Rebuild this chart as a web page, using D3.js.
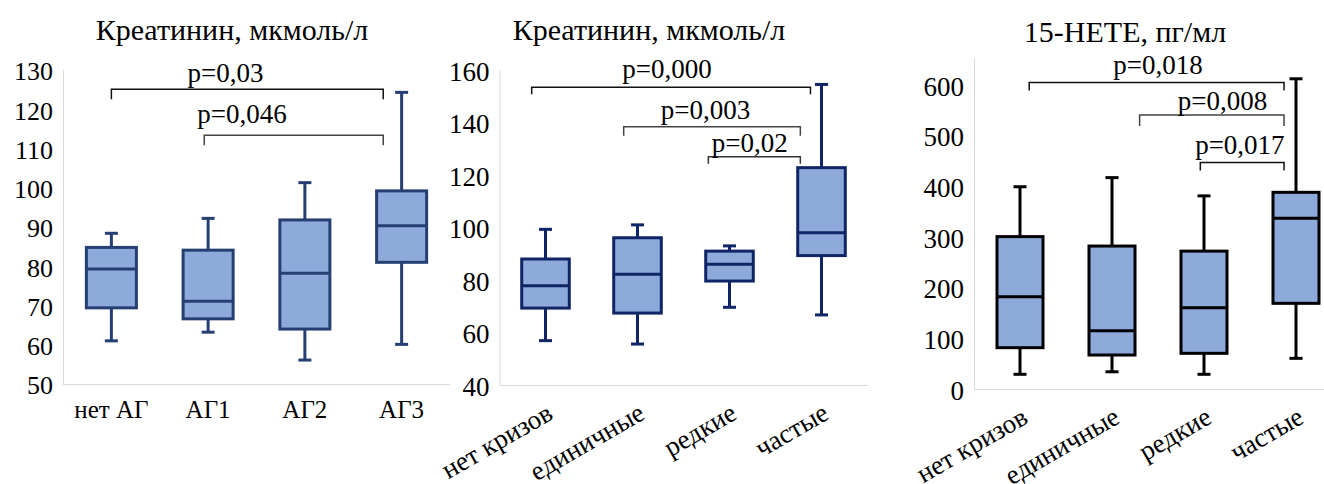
<!DOCTYPE html>
<html>
<head>
<meta charset="utf-8">
<script src="https://cdn.jsdelivr.net/npm/d3@7"></script>
<style>
  body { margin: 0; background: #fff; }
  text { font-family: "Liberation Serif", "Times New Roman", serif; fill: #000; }
</style>
</head>
<body>
<svg id="chart" width="1324" height="484"></svg>
<script>
// ---- Panel 1: creatinine by hypertension stage ----
const stageCategories = ["нет АГ", "АГ1", "АГ2", "АГ3"];
const stageMin    = [61, 63.2, 56.1, 60.1];
const stageQ1     = [69.4, 66.6, 64, 81];
const stageMedian = [79.3, 71.1, 78.2, 90.3];
const stageQ3     = [84.8, 84.1, 91.8, 99.2];
const stageMax    = [88.4, 92.2, 101.3, 124.3];
const stageTicks  = [50, 60, 70, 80, 90, 100, 110, 120, 130];
const stagePLabels = ["p=0,03", "p=0,046"];

// ---- Panel 2: creatinine by crisis frequency ----
const crisisCategories = ["нет кризов", "единичные", "редкие", "частые"];
const creatMin    = [56.9, 55.6, 69.6, 66.7];
const creatQ1     = [69.3, 67.4, 79.6, 89.3];
const creatMedian = [77.8, 82.2, 86, 98];
const creatQ3     = [88, 96.1, 91, 122.8];
const creatMax    = [99.3, 101, 93, 154.5];
const creatTicks  = [40, 60, 80, 100, 120, 140, 160];
const creatPLabels = ["p=0,000", "p=0,003", "p=0,02"];

// ---- Panel 3: 15-HETE by crisis frequency ----
const heteMin    = [29, 34, 29, 60.5];
const heteQ1     = [81.5, 67, 70.4, 169];
const heteMedian = [182, 115, 160.5, 337];
const heteQ3     = [300.6, 282, 272, 388];
const heteMax    = [399, 417, 381, 612];
const heteTicks  = [0, 100, 200, 300, 400, 500, 600];
const hetePLabels = ["p=0,018", "p=0,008", "p=0,017"];

const svg = d3.select("#chart");
const fill = "#8eaadb";
const axisGrey = "#d9d9d9";

function drawPanel(cfg) {
  const g = svg.append("g");
  const x = d3.scaleBand().domain(cfg.categories).range([cfg.left, cfg.right]);
  const step = x.step();
  const cx = c => x(c) + step / 2;
  // fractional category position used by comparison brackets
  const xi = d3.scaleLinear().domain([0, 1]).range([cx(cfg.categories[0]), cx(cfg.categories[1])]);
  const y = d3.scaleLinear().domain(cfg.yDomain).range([cfg.bottom, cfg.top]);

  // title
  g.append("text").attr("x", cfg.titleX).attr("y", cfg.titleY)
    .attr("text-anchor", "middle").style("font-size", "30px").text(cfg.title);

  // axis lines
  g.append("line").attr("x1", cfg.left + 0.5).attr("x2", cfg.left + 0.5)
    .attr("y1", cfg.top).attr("y2", cfg.bottom)
    .attr("stroke", axisGrey).attr("stroke-width", 1);
  g.append("line").attr("x1", cfg.left).attr("x2", cfg.right)
    .attr("y1", cfg.bottom + 0.5).attr("y2", cfg.bottom + 0.5)
    .attr("stroke", axisGrey).attr("stroke-width", 1);

  // y tick labels
  const yAxis = d3.axisLeft(y).tickValues(cfg.ticks).tickSize(0).tickPadding(10);
  const ya = g.append("g").attr("transform", `translate(${cfg.left},0)`).call(yAxis);
  ya.select(".domain").remove();
  ya.attr("font-family", null);
  ya.selectAll("text").style("font-size", cfg.tickSize + "px")
    .style("font-family", "'Liberation Serif', serif")
    .attr("dy", "0.38em").attr("fill", "#000");

  // category labels
  const lab = g.append("g");
  cfg.categories.forEach(c => {
    if (cfg.rotate) {
      lab.append("text")
        .attr("transform", `translate(${cx(c) + cfg.labelDx},${cfg.bottom + cfg.labelDy}) rotate(-30)`)
        .attr("text-anchor", "end").style("font-size", "27px").text(c);
    } else {
      lab.append("text").attr("x", cx(c)).attr("y", cfg.bottom + 34)
        .attr("text-anchor", "middle").style("font-size", "25px").text(c);
    }
  });

  // boxes
  const bw = step * cfg.boxFrac;
  const cap = 13;
  cfg.categories.forEach((c, i) => {
    const xc = cx(c);
    const bg = g.append("g").attr("stroke", cfg.stroke).attr("stroke-width", 3);
    bg.append("line").attr("x1", xc).attr("x2", xc).attr("y1", y(cfg.max[i])).attr("y2", y(cfg.q3[i]));
    bg.append("line").attr("x1", xc).attr("x2", xc).attr("y1", y(cfg.q1[i])).attr("y2", y(cfg.min[i]));
    bg.append("line").attr("x1", xc - cap / 2).attr("x2", xc + cap / 2).attr("y1", y(cfg.max[i])).attr("y2", y(cfg.max[i]));
    bg.append("line").attr("x1", xc - cap / 2).attr("x2", xc + cap / 2).attr("y1", y(cfg.min[i])).attr("y2", y(cfg.min[i]));
    bg.append("rect").attr("x", xc - bw / 2).attr("width", bw)
      .attr("y", y(cfg.q3[i])).attr("height", y(cfg.q1[i]) - y(cfg.q3[i]))
      .attr("fill", fill);
    bg.append("line").attr("x1", xc - bw / 2).attr("x2", xc + bw / 2)
      .attr("y1", y(cfg.median[i])).attr("y2", y(cfg.median[i]));
  });

  // significance brackets
  cfg.brackets.forEach(b => {
    const yl = y(b.level);
    g.append("path")
      .attr("d", `M${xi(b.from)},${yl + b.tick}V${yl}H${xi(b.to)}V${yl + b.tick}`)
      .attr("fill", "none").attr("stroke", b.color).attr("stroke-width", 1.5);
    g.append("text").attr("x", xi(b.textAt)).attr("y", y(b.textLevel))
      .attr("text-anchor", "middle").style("font-size", "27px").text(b.label);
  });
}

drawPanel({
  title: "Креатинин, мкмоль/л", titleX: 232, titleY: 39.5,
  categories: stageCategories, min: stageMin, q1: stageQ1, median: stageMedian, q3: stageQ3, max: stageMax,
  yDomain: [50, 130], ticks: stageTicks, tickSize: 26,
  left: 63, right: 450, top: 70, bottom: 384,
  stroke: "#263f72", boxFrac: 0.517, rotate: false,
  brackets: [
    { label: stagePLabels[0], from: 0, to: 2.81, level: 125.1, tick: 10, textAt: 1.18, textLevel: 127, color: "#111" },
    { label: stagePLabels[1], from: 0.96, to: 2.81, level: 113.4, tick: 10, textAt: 1.35, textLevel: 116.5, color: "#444" }
  ]
});

drawPanel({
  title: "Креатинин, мкмоль/л", titleX: 649, titleY: 39.5,
  categories: crisisCategories, min: creatMin, q1: creatQ1, median: creatMedian, q3: creatQ3, max: creatMax,
  yDomain: [40, 160], ticks: creatTicks, tickSize: 27,
  left: 499.5, right: 867.5, top: 70, bottom: 385,
  stroke: "#0f2566", boxFrac: 0.517, rotate: true, labelDx: 9, labelDy: 33,
  brackets: [
    { label: creatPLabels[0], from: -0.15, to: 2.88, level: 153.4, tick: 7, textAt: 1.32, textLevel: 157, color: "#111" },
    { label: creatPLabels[1], from: 0.85, to: 2.77, level: 138.4, tick: 9, textAt: 1.74, textLevel: 141.3, color: "#444" },
    { label: creatPLabels[2], from: 1.77, to: 2.77, level: 127, tick: 7, textAt: 2.22, textLevel: 128.9, color: "#333" }
  ]
});

drawPanel({
  title: "15-HETE, пг/мл", titleX: 1125, titleY: 41.5,
  categories: crisisCategories, min: heteMin, q1: heteQ1, median: heteMedian, q3: heteQ3, max: heteMax,
  yDomain: [0, 653], ticks: heteTicks, tickSize: 27,
  left: 974, right: 1342, top: 58, bottom: 389,
  stroke: "#000", boxFrac: 0.5, rotate: true, labelDx: 9.5, labelDy: 33,
  brackets: [
    { label: hetePLabels[0], from: 0.10, to: 2.87, level: 604.5, tick: 8, textAt: 1.5, textLevel: 621.7, color: "#111" },
    { label: hetePLabels[1], from: 1.30, to: 2.87, level: 540.7, tick: 11, textAt: 2.2, textLevel: 550.6, color: "#444" },
    { label: hetePLabels[2], from: 1.96, to: 2.87, level: 446.6, tick: 8, textAt: 2.39, textLevel: 463.8, color: "#111" }
  ]
});
</script>
</body>
</html>
